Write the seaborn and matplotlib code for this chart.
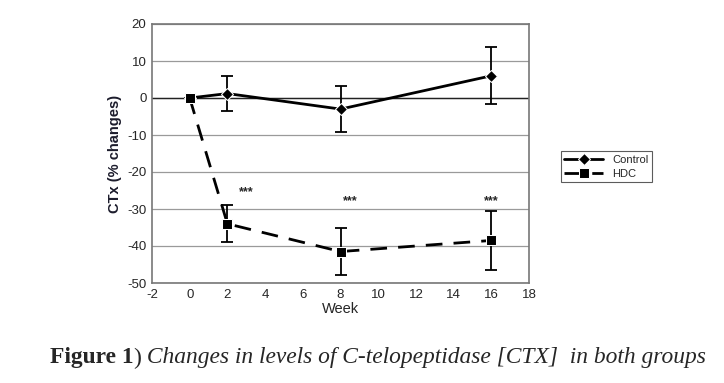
import matplotlib
matplotlib.use("Agg")
import matplotlib.pyplot as plt
import seaborn as sns
import pandas as pd

weeks = [0, 2, 8, 16]
control = [0, 1.2, -3.0, 6.0]
control_err = [0, 4.8, 6.2, 7.7]
hdc = [0, -34.0, -41.5, -38.5]
hdc_err = [0, 5.0, 6.4, 7.9]
star_x = [3, 8.5, 16]
star_y = [-25.5, -28.0, -28.0]
yticks = [-50, -40, -30, -20, -10, 0, 10, 20]
xticks = [-2, 0, 2, 4, 6, 8, 10, 12, 14, 16, 18]

sns.set_style("white")
plt.rcParams['font.family'] = ['Liberation Sans', 'DejaVu Sans']
plt.rcParams['axes.unicode_minus'] = False

df = pd.concat([
    pd.DataFrame({"Week": weeks, "val": control, "err": control_err, "group": "Control"}),
    pd.DataFrame({"Week": weeks, "val": hdc, "err": hdc_err, "group": "HDC"}),
])

fig = plt.figure(figsize=(7.24, 3.83), dpi=100)
ax = fig.add_axes([152/724, 1 - 283/383, (529 - 152)/724, (283 - 24)/383])

for y in yticks:
    ax.axhline(y, color="#9a9a9a", lw=0.9, zorder=0)
ax.axhline(0, color="#222222", lw=1.0, zorder=1)

c = df[df.group == "Control"]
h = df[df.group == "HDC"]
sns.lineplot(data=c, x="Week", y="val", ax=ax, color="black", lw=2,
             marker="D", markersize=6, label="Control", zorder=3)
sns.lineplot(data=h, x="Week", y="val", ax=ax, color="black", lw=2,
             marker="s", markersize=7, label="HDC", zorder=3)
for ln in ax.lines[-1:]:
    ln.set_dashes([6, 4])
ax.errorbar(c["Week"], c["val"], yerr=c["err"], fmt="none", ecolor="black",
            elinewidth=1.3, capsize=4, capthick=1.3, zorder=2)
ax.errorbar(h["Week"], h["val"], yerr=h["err"], fmt="none", ecolor="black",
            elinewidth=1.3, capsize=4, capthick=1.3, zorder=2)

for sx, sy in zip(star_x, star_y):
    ax.text(sx, sy, "***", ha="center", va="center", fontsize=9, fontweight="bold")

ax.set_xlim(-2, 18)
ax.set_ylim(-50, 20)
ax.set_xticks(xticks)
ax.set_yticks(yticks)
ax.tick_params(axis="both", labelsize=9.5, length=0, pad=4)
for s in ax.spines.values():
    s.set_color("#777777")
    s.set_linewidth(1.2)
ax.set_xlabel("Week", fontsize=10.5, labelpad=1)
ax.set_ylabel("CTx (% changes)", fontsize=10.5, fontweight="bold", color="#1c1c2c", labelpad=4)

leg = ax.legend(loc="upper left", bbox_to_anchor=(1.07, 0.53), frameon=True,
                fontsize=8, handlelength=3.5, borderpad=0.3, labelspacing=0.4,
                fancybox=False, edgecolor="#333333")
leg.get_frame().set_linewidth(0.8)

full_parts = [("Figure 1", dict(fontweight="bold", style="normal")),
              (")", dict(fontweight="normal", style="normal")),
              (" Changes in levels of C-telopeptidase [CTX]  in both groups",
               dict(fontweight="normal", style="italic"))]
texts = []
for s, kw in full_parts:
    t = fig.text(0, 1 - 358/383, s, fontsize=16.9, family=["Liberation Serif"],
                 va="center", **kw)
    texts.append(t)
fig.canvas.draw()
r = fig.canvas.get_renderer()
widths = [t.get_window_extent(r).width for t in texts]
total = sum(widths)
x0 = 378 - total / 2
for t, w in zip(texts, widths):
    t.set_x(x0 / 724)
    x0 += w

fig.savefig("out.png", dpi=100)
